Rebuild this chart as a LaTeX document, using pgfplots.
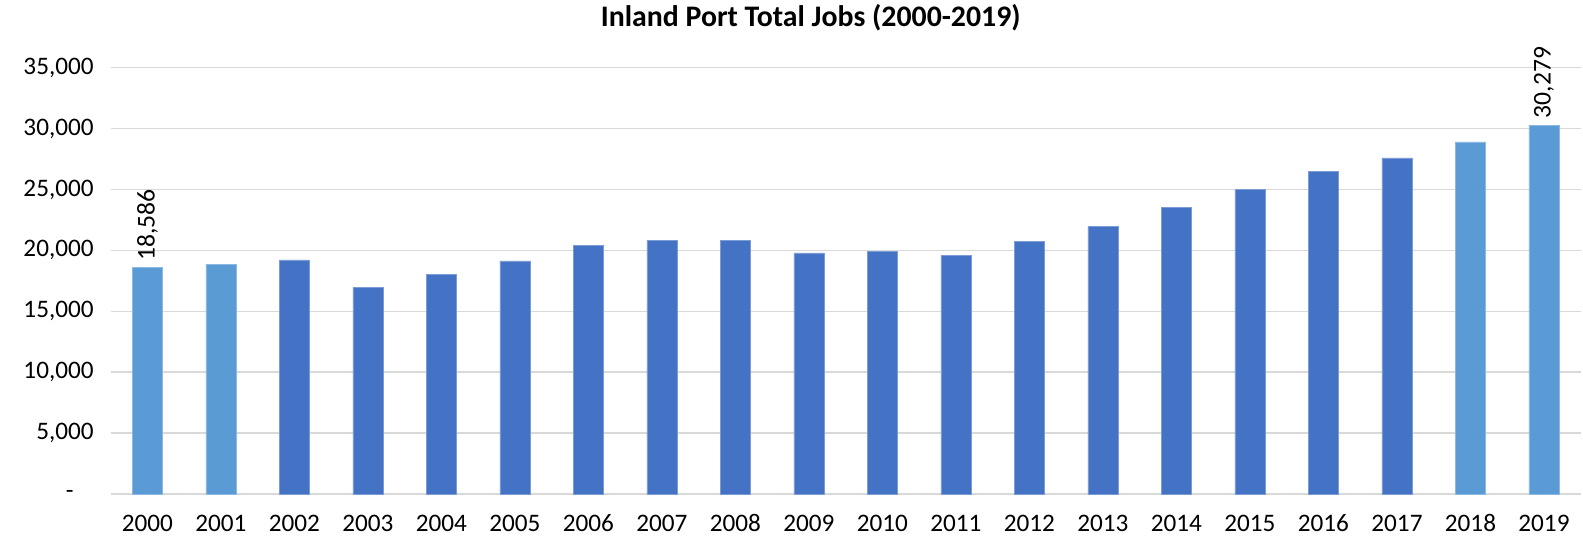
\documentclass[border=0pt]{standalone}
\usepackage{pgfplots}
\pgfplotsset{compat=1.18}
\usepackage{fontspec}
\setmainfont{Carlito}
\definecolor{lightbar}{HTML}{5B9BD5}
\definecolor{darkbar}{HTML}{4472C4}
\definecolor{gridc}{HTML}{D9D9D9}
\begin{document}
\begin{tikzpicture}
\useasboundingbox (-55.35pt,-22pt) rectangle (736.15pt,247pt);
\begin{axis}[
  at={(0,0)}, anchor=south west,
  scale only axis, width=735pt, height=213.2pt,
  xmin=-0.5, xmax=19.5, ymin=0, ymax=35000,
  ybar, bar width=15pt,
  scaled y ticks=false,
  xtick={0,...,19},
  xticklabels={2000,2001,2002,2003,2004,2005,2006,2007,2008,2009,2010,2011,2012,2013,2014,2015,2016,2017,2018,2019},
  ytick={0,5000,10000,15000,20000,25000,30000,35000},
  yticklabels={{-\rule{10pt}{0pt}},{5,000},{10,000},{15,000},{20,000},{25,000},{30,000},{35,000}},
  ymajorgrids, grid style={gridc, line width=0.75pt},
  axis line style={draw=none}, major tick length=0pt,
  tick label style={font=\fontsize{12.6}{15}\selectfont},
  yticklabel style={xshift=-5pt},
  xticklabel style={anchor=base, yshift=-18.5pt},
  /pgf/number format/assume math mode=true,
  /pgf/number format/1000 sep={,},
  clip=false,
]
\addplot[bar shift=0pt, fill=lightbar, draw=lightbar!70!white, line width=0.3pt,
  nodes near coords,
  every node near coord/.append style={rotate=90, anchor=west, font=\fontsize{12.8}{15}\selectfont, text=black}]
  coordinates {(0,18586) (19,30279)};
\addplot[bar shift=0pt, fill=lightbar, draw=lightbar!70!white, line width=0.3pt]
  coordinates {(1,18880) (18,28900)};
\addplot[bar shift=0pt, fill=darkbar, draw=darkbar!70!white, line width=0.3pt]
  coordinates {(2,19210) (3,16970) (4,18000) (5,19130) (6,20420) (7,20800) (8,20850) (9,19790) (10,19890) (11,19560) (12,20750) (13,21950) (14,23540) (15,24980) (16,26490) (17,27590)};
\end{axis}
\node[font=\bfseries\fontsize{14.9}{17}\selectfont] at (350pt,238pt) {Inland Port Total Jobs (2000-2019)};
\end{tikzpicture}
\end{document}
